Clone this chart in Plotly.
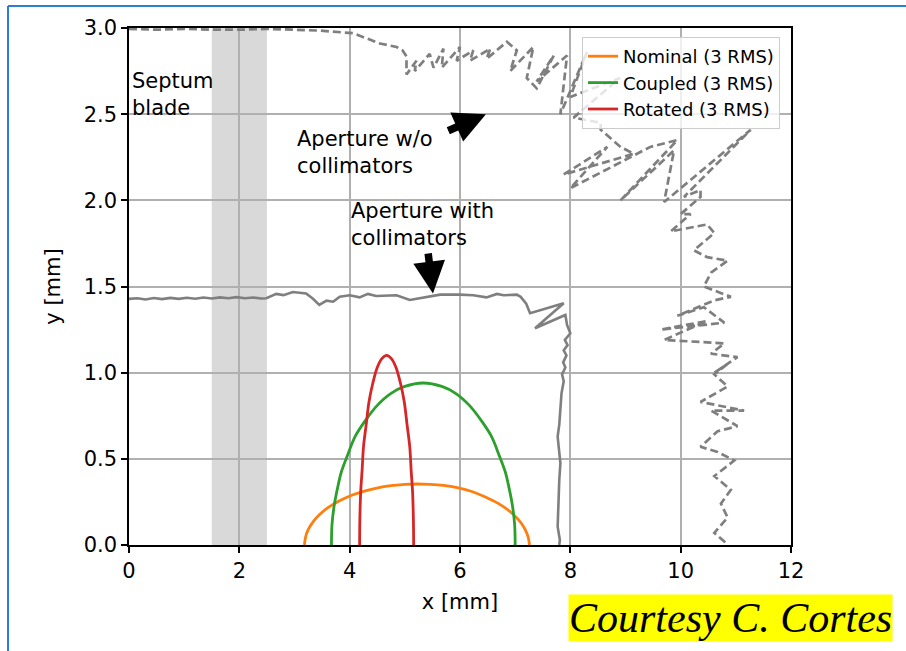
import plotly.graph_objects as go

# ---------------- data ----------------
nominal_x = [3.18, 3.2, 3.25, 3.35, 3.45, 3.6, 3.8, 4.05, 4.3, 4.55, 4.8, 5.0, 5.22, 5.45, 5.7, 5.95, 6.2, 6.45, 6.7, 6.9, 7.05, 7.15, 7.21, 7.24, 7.26]
nominal_y = [0.0, 0.045, 0.09, 0.14, 0.175, 0.215, 0.254, 0.29, 0.316, 0.335, 0.346, 0.352, 0.354, 0.352, 0.346, 0.333, 0.312, 0.28, 0.24, 0.196, 0.15, 0.108, 0.07, 0.04, 0.0]

coupled_x = [3.67, 3.68, 3.72, 3.78, 3.85, 3.96, 4.1, 4.28, 4.5, 4.75, 5.0, 5.33, 5.67, 5.92, 6.17, 6.39, 6.57, 6.71, 6.82, 6.89, 6.95, 6.99, 7.0]
coupled_y = [0.0, 0.12, 0.23, 0.33, 0.425, 0.52, 0.63, 0.72, 0.81, 0.88, 0.92, 0.94, 0.92, 0.88, 0.81, 0.72, 0.63, 0.52, 0.425, 0.33, 0.23, 0.12, 0.0]

rotated_x = [4.18, 4.185, 4.2, 4.225, 4.25, 4.3, 4.35, 4.42, 4.5, 4.58, 4.67, 4.76, 4.84, 4.92, 4.99, 5.04, 5.09, 5.115, 5.14, 5.155, 5.16]
rotated_y = [0.0, 0.15, 0.31, 0.43, 0.567, 0.7, 0.83, 0.94, 1.03, 1.08, 1.10, 1.08, 1.03, 0.94, 0.83, 0.7, 0.567, 0.43, 0.31, 0.15, 0.0]

with_coll_x = [0, 0.15, 0.3, 0.45, 0.6, 0.75, 0.9, 1.05, 1.2, 1.35, 1.5, 1.65, 1.8, 1.95, 2.1, 2.25, 2.4, 2.49,
               2.67, 2.8, 2.97, 3.1, 3.21, 3.33, 3.45, 3.58, 3.7, 3.82, 4.0, 4.18, 4.33, 4.48, 4.85, 5.09, 5.33,
               5.64, 6.0, 6.24, 6.48, 6.67, 6.79, 7.03, 7.1, 7.2, 7.27, 7.88, 7.36, 7.91, 7.94, 8.0, 7.9, 7.95,
               7.88, 7.93, 7.87, 7.91, 7.85, 7.88, 7.84, 7.82, 7.8, 7.77, 7.8, 7.82, 7.8, 7.79, 7.78, 7.77, 7.81, 7.8]
with_coll_y = [1.428, 1.432, 1.425, 1.433, 1.427, 1.434, 1.428, 1.435, 1.429, 1.436, 1.43, 1.437, 1.432, 1.438, 1.432, 1.436, 1.43, 1.432,
               1.457, 1.45, 1.468, 1.462, 1.46, 1.43, 1.393, 1.418, 1.412, 1.441, 1.449, 1.437, 1.457, 1.445, 1.449, 1.422, 1.437,
               1.453, 1.453, 1.449, 1.437, 1.457, 1.449, 1.453, 1.44, 1.40, 1.345, 1.403, 1.258, 1.335, 1.277, 1.229, 1.19, 1.16,
               1.13, 1.10, 1.06, 1.03, 0.99, 0.95, 0.88, 0.764, 0.70, 0.629, 0.55, 0.474, 0.38, 0.28, 0.19, 0.106, 0.03, 0.0]

no_coll_x = [0, 0.5, 1.0, 1.5, 2.0, 2.5, 3.0, 3.45, 4.06, 4.55, 4.85, 4.96, 5.03, 5.03, 5.21, 5.18, 5.45, 5.52, 5.70, 5.67,
             6.0, 5.94, 6.24, 6.18, 6.55, 6.48, 6.85, 7.03, 6.91, 7.33, 7.21, 7.39, 7.70, 7.39, 7.94, 7.82, 8.30, 8.0,
             8.9, 8.06, 8.55, 8.55, 8.91, 9.15, 7.88, 8.67, 8.0, 9.45, 9.94, 8.91, 9.88, 9.70, 11.27, 10.06, 10.36,
             10.36, 10.0, 10.18, 9.82, 10.48, 10.61, 10.24, 10.48, 10.85, 10.55, 10.42, 10.91, 10.61, 9.94, 10.42,
             10.79, 9.64, 10.48, 9.70, 10.79, 10.55, 11.03, 10.61, 10.85, 10.61, 10.85, 10.36, 11.15, 10.55, 11.03,
             10.67, 10.36, 10.67, 10.97, 10.61, 10.91, 10.73, 10.85, 10.61, 10.79, 10.75]
no_coll_y = [2.995, 2.99, 2.995, 2.99, 2.99, 2.995, 2.99, 2.985, 2.97, 2.91, 2.89, 2.87, 2.835, 2.73, 2.81, 2.75, 2.85, 2.77, 2.88, 2.77,
             2.89, 2.81, 2.87, 2.81, 2.88, 2.82, 2.92, 2.87, 2.75, 2.89, 2.71, 2.65, 2.84, 2.69, 2.84, 2.50, 2.86, 2.60,
             2.71, 2.48, 2.45, 2.41, 2.31, 2.27, 2.15, 2.31, 2.07, 2.31, 2.35, 2.0, 2.29, 1.99, 2.41, 2.02, 2.06,
             2.02, 1.92, 1.92, 1.82, 1.86, 1.81, 1.71, 1.67, 1.65, 1.58, 1.50, 1.44, 1.42, 1.33, 1.38,
             1.29, 1.25, 1.30, 1.19, 1.17, 1.11, 1.09, 1.0, 1.05, 0.99, 0.92, 0.83, 0.78, 0.78, 0.69,
             0.66, 0.57, 0.54, 0.49, 0.40, 0.32, 0.24, 0.16, 0.07, 0.02, 0.0]

x_ticks = [0, 2, 4, 6, 8, 10, 12]
y_ticks = [0.0, 0.5, 1.0, 1.5, 2.0, 2.5, 3.0]
septum_range = [1.5, 2.5]

# ---------------- figure ----------------
W, H = 906, 651
ML, MR, MT, MB = 129, 115, 28, 106
PW, PH = W - ML - MR, H - MT - MB

def px_x(p):
    return (p - ML) / PW

def px_y(p):
    return (H - MB - p) / PH

FONT = "DejaVu Sans"
GRAY = "#7f7f7f"

fig = go.Figure()

fig.add_trace(go.Scatter(x=no_coll_x, y=no_coll_y, mode="lines", showlegend=False,
                         line=dict(color=GRAY, width=2.7, dash="8px,4px")))
fig.add_trace(go.Scatter(x=with_coll_x, y=with_coll_y, mode="lines", showlegend=False,
                         line=dict(color=GRAY, width=2.6)))
fig.add_trace(go.Scatter(x=nominal_x, y=nominal_y, mode="lines", name="Nominal (3 RMS)",
                         line=dict(color="#ff7f0e", width=2.8, shape="spline")))
fig.add_trace(go.Scatter(x=coupled_x, y=coupled_y, mode="lines", name="Coupled (3 RMS)",
                         line=dict(color="#2ca02c", width=2.8, shape="spline")))
fig.add_trace(go.Scatter(x=rotated_x, y=rotated_y, mode="lines", name="Rotated (3 RMS)",
                         line=dict(color="#d62728", width=2.8, shape="spline")))

# septum blade shading
fig.add_shape(type="rect", xref="x", yref="paper", x0=septum_range[0], x1=septum_range[1], y0=0, y1=1,
              fillcolor="rgba(128,128,128,0.3)", line=dict(width=0), layer="below")

# blue frame (top and left edges)
fig.add_shape(type="line", xref="paper", yref="paper", x0=px_x(8), x1=px_x(W + 5), y0=px_y(6), y1=px_y(6),
              line=dict(color="#2a7fd4", width=2))
fig.add_shape(type="line", xref="paper", yref="paper", x0=px_x(8), x1=px_x(8), y0=px_y(6), y1=px_y(H + 5),
              line=dict(color="#2a7fd4", width=2))

TXT = dict(family=FONT, size=21, color="black")
fig.add_annotation(x=0.02, y=2.775, xref="x", yref="y", text="Septum<br>blade", showarrow=False,
                   xanchor="left", yanchor="top", align="left", font=TXT)
fig.add_annotation(x=3.0, y=2.435, xref="x", yref="y", text="Aperture w/o<br>collimators", showarrow=False,
                   xanchor="left", yanchor="top", align="left", font=TXT)
fig.add_annotation(x=3.98, y=2.02, xref="x", yref="y", text="Aperture with<br>collimators", showarrow=False,
                   xanchor="left", yanchor="top", align="left", font=TXT)

# arrows
fig.add_annotation(x=6.47, y=2.50, ax=5.76, ay=2.40, xref="x", yref="y", axref="x", ayref="y", text="",
                   showarrow=True, arrowhead=2, arrowwidth=7.5, arrowsize=0.85, arrowcolor="black")
fig.add_annotation(x=5.51, y=1.46, ax=5.42, ay=1.70, xref="x", yref="y", axref="x", ayref="y", text="",
                   showarrow=True, arrowhead=2, arrowwidth=7.5, arrowsize=0.85, arrowcolor="black")

# courtesy
fig.add_annotation(x=px_x(730.5), y=px_y(618), xref="paper", yref="paper", text="<i>Courtesy C. Cortes</i>",
                   showarrow=False, xanchor="center", yanchor="middle", bgcolor="#ffff00", borderpad=0,
                   font=dict(family="Liberation Serif", size=42, color="black"))

axis_common = dict(showgrid=True, gridcolor="#b0b0b0", gridwidth=1.5, showline=True, linecolor="black",
                   linewidth=1.5, mirror=True, ticks="outside", ticklen=6, tickwidth=1.5, tickcolor="black",
                   zeroline=False, tickfont=dict(family=FONT, size=21, color="black"))

fig.update_xaxes(range=[0, 12], tickvals=x_ticks, ticktext=[str(v) for v in x_ticks],
                 title=dict(text="x [mm]", font=dict(family=FONT, size=21, color="black"), standoff=12),
                 **axis_common)
fig.update_yaxes(range=[0, 3], tickvals=y_ticks, ticktext=[f"{v:.1f}" for v in y_ticks],
                 title=dict(text="y [mm]", font=dict(family=FONT, size=21, color="black"), standoff=17),
                 **axis_common)

fig.update_layout(width=W, height=H, margin=dict(l=ML, r=MR, t=MT, b=MB),
                  paper_bgcolor="white", plot_bgcolor="white",
                  font=dict(family=FONT, color="black"),
                  legend=dict(x=px_x(780), y=px_y(37), xanchor="right", yanchor="top",
                              bgcolor="rgba(255,255,255,0.8)", bordercolor="#cccccc", borderwidth=1,
                              font=dict(family=FONT, size=18, color="black"), tracegroupgap=0))

fig.write_html("out.html")
